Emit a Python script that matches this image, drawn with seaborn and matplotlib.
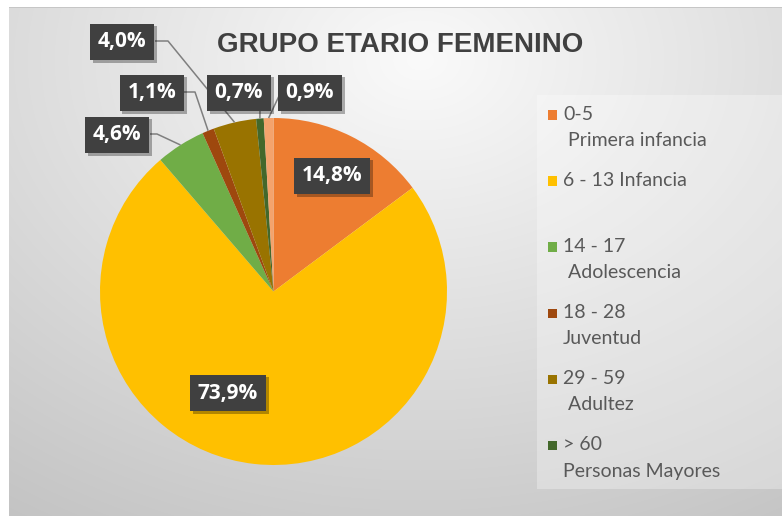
import numpy as np
import matplotlib
matplotlib.use("Agg")
import matplotlib.pyplot as plt
import matplotlib.patheffects as pe
from matplotlib.patches import Rectangle
import seaborn as sns

sns.set_theme(style="white")

# data (clockwise from 12 o'clock)
categories = ["0-5\n Primera infancia", "6 - 13 Infancia", "14 - 17\n Adolescencia",
              "18 - 28\nJuventud", "29 - 59\n Adultez", "> 60\nPersonas Mayores", ""]
values = [14.8, 73.9, 4.6, 1.1, 4.0, 0.7, 0.9]
pct_labels = ["14,8%", "73,9%", "4,6%", "1,1%", "4,0%", "0,7%", "0,9%"]
colors = ["#ED7D31", "#FFC000", "#70AD47", "#9E480E", "#997300", "#43682B", "#F4A36C"]

W, H = 782, 516
CX, CY, R = 273.5, 291.5, 173.5


def px(x, y):
    # reference pixel -> pie data coords
    return (x - CX) / R, (CY - y) / R


fig = plt.figure(figsize=(W / 100, H / 100), dpi=100)

# background: soft radial grey gradient, white margin on top/left
bg = fig.add_axes([0, 0, 1, 1], zorder=0)
yy, xx = np.mgrid[0:H, 0:W]
d = np.sqrt(((xx - 420) / 650) ** 2 + ((yy - 60) / 480) ** 2)
g = np.clip(250 - 48 * d, 180, 250) / 255
img = np.dstack([g, g, g])
img[:7, :, :] = 1.0
img[:, :9, :] = 1.0
img[7, 9:, :] = 0.78
bg.imshow(img, extent=[0, 1, 0, 1], aspect="auto", origin="upper")
bg.set_axis_off()

ax = fig.add_axes([0, 0, 1, 1], zorder=1)
ax.patch.set_alpha(0)
wedges, _ = ax.pie(values, colors=colors, startangle=90, counterclock=False,
                   radius=1, wedgeprops=dict(linewidth=0))
ax.set_xlim(-CX / R, (W - CX) / R)
ax.set_ylim((CY - H) / R, CY / R)
ax.set_aspect("auto")
ax.set_axis_off()

# data label placement (reference pixels): text centre, leader start, elbow
label_pos = {
    0: ((332, 176), None, None),
    1: ((228, 393), None, None),
    2: ((117, 135), (150, 134), (157, 134)),
    3: ((152, 93), (184, 92), (195, 92)),
    4: ((122, 42), (155, 41), (168, 41)),
    5: ((239, 93), (260, 110), (260, 110)),
    6: ((310, 93), (279, 96), (279, 96)),
}

for i, w in enumerate(wedges):
    (tx, ty), start, elbow = label_pos[i]
    if start is not None:
        mid = np.deg2rad((w.theta1 + w.theta2) / 2)
        ex, ey = np.cos(mid), np.sin(mid)
        pts = [px(*start), px(*elbow), (ex, ey)]
        ax.plot([p[0] for p in pts], [p[1] for p in pts], color="#7F7F7F",
                lw=1.1, zorder=3, solid_capstyle="butt")
    t = ax.text(*px(tx, ty), pct_labels[i], ha="center", va="center",
                fontsize=15, fontweight="bold", family=["Open Sans", "DejaVu Sans"],
                color="white", zorder=5,
                bbox=dict(boxstyle="square,pad=0.38", fc="#404040", ec="none"))
    t.get_bbox_patch().set_path_effects(
        [pe.SimplePatchShadow(offset=(2, -2), shadow_rgbFace="#000000", alpha=0.3), pe.Normal()])

fig.text(400 / W, 1 - 45 / H, "GRUPO ETARIO FEMENINO", ha="center", va="center",
         fontsize=20, fontweight="bold", family=["Liberation Sans", "DejaVu Sans"],
         color="#404040")

# legend panel
fig.patches.append(Rectangle((537 / W, 1 - 489 / H), (W - 537) / W, (489 - 95) / H,
                             transform=fig.transFigure, fc="white", alpha=0.3,
                             ec="none", zorder=0.5))
y0, step, line_gap = 115, 66, 26
for i, lab in enumerate(categories):
    if not lab:
        continue
    y = y0 + i * step
    fig.patches.append(Rectangle((548 / W, 1 - (y + 4.5) / H), 9 / W, 9 / H,
                                 transform=fig.transFigure, fc=colors[i], ec="none",
                                 zorder=2))
    for k, line in enumerate(lab.split("\n")):
        fig.text(563 / W, 1 - (y + k * line_gap) / H, line, ha="left", va="center",
                 fontsize=14, family=["Lato", "DejaVu Sans"], color="#595959")

fig.savefig("out.png", dpi=100)
